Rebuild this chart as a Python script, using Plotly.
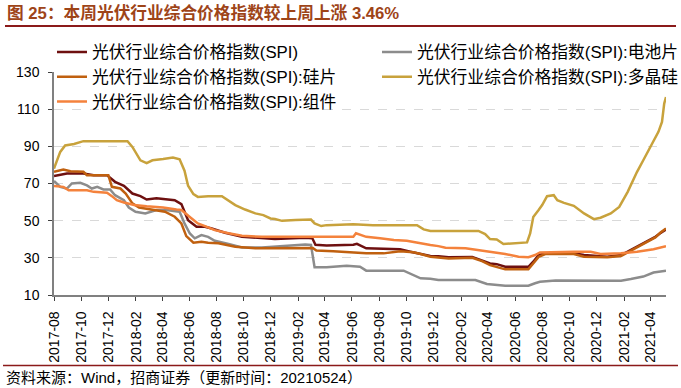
import plotly.graph_objects as go

# ---------------- data ----------------
spi_dates = ["2017-08-01","2017-08-30","2017-10-06","2017-10-29","2017-11-28","2017-12-05","2017-12-16",
             "2018-01-05","2018-01-24","2018-02-11","2018-02-25","2018-03-19","2018-04-18","2018-04-29",
             "2018-05-14","2018-05-29","2018-06-17","2018-07-06","2018-07-21","2018-08-20","2018-09-27",
             "2018-11-11","2018-12-10","2019-02-16","2019-03-04","2019-03-11","2019-04-05","2019-06-04",
             "2019-06-12","2019-07-03","2019-08-03","2019-09-17","2019-10-10","2019-11-02","2019-11-24",
             "2019-12-12","2020-01-04","2020-02-26","2020-03-19","2020-04-06","2020-04-21","2020-05-10",
             "2020-07-01","2020-07-12","2020-07-24","2020-08-08","2020-10-11","2020-11-03","2020-12-25",
             "2021-01-25","2021-02-09","2021-03-02","2021-03-24","2021-04-12","2021-04-23","2021-05-06"]
spi_vals = [74,75.4,75.4,74.5,74.5,73.2,70.9,
            68.7,64.6,63.2,61.4,62,61.4,61,
            58.9,50.3,46.7,46.7,45.8,43.5,41.3,
            40.5,40.2,40.8,40.5,37,36.6,37,
            37.5,35.1,34.8,34.6,33.3,32.1,31,
            30.8,30.3,30.5,28.8,27,26.6,25.2,
            25.2,27.9,31.5,32.4,32.4,31.5,30.6,
            31.5,33.3,36,38.6,41.3,43.2,45.3]

cell_dates = ["2017-08-01","2017-08-15","2017-08-30","2017-09-10","2017-09-29","2017-10-14","2017-10-25",
              "2017-11-06","2017-11-20","2017-12-05","2017-12-16","2018-01-05","2018-01-16","2018-01-31",
              "2018-02-22","2018-03-19","2018-04-10","2018-05-10","2018-05-21","2018-06-02","2018-06-13",
              "2018-06-28","2018-07-13","2018-07-28","2018-08-28","2018-09-27","2018-11-11","2019-01-02",
              "2019-02-16","2019-03-01","2019-03-09","2019-04-05","2019-05-04","2019-05-20","2019-06-19",
              "2019-07-03","2019-09-25","2019-10-17","2019-11-02","2019-11-24","2019-12-12","2020-03-04",
              "2020-03-30","2020-05-10","2020-07-01","2020-07-16","2020-07-27","2020-08-31","2020-11-03",
              "2021-01-25","2021-02-16","2021-03-16","2021-04-08","2021-05-06"]
cell_vals = [71.4,68.2,67.3,70,70.4,69,67.3,
             68.2,66.8,66.8,63.7,61,57.1,54.8,
             53.9,55.7,55.7,54.8,48.5,43.1,40.5,
             42.2,41.3,39.2,37.4,35.6,35.6,36.3,
             37.2,36.9,24.9,24.9,25.2,25.7,25.2,
             23.1,23.1,20.7,19,18.8,18.1,18.1,
             15.9,15,15,16.3,17.1,17.8,17.8,
             17.7,18.6,19.9,22.1,23.1]

wafer_dates = ["2017-08-01","2017-08-22","2017-09-07","2017-10-06","2017-10-14","2017-12-01","2017-12-09",
               "2017-12-28","2018-01-09","2018-01-24","2018-02-08","2018-03-04","2018-04-07","2018-04-29",
               "2018-05-14","2018-05-25","2018-06-10","2018-06-28","2018-07-13","2018-08-05","2018-09-12",
               "2018-10-27","2018-12-10","2019-01-10","2019-03-05","2019-03-13","2019-04-20","2019-07-03",
               "2019-08-11","2019-09-17","2019-10-17","2019-11-02","2019-11-24","2020-01-04","2020-02-26",
               "2020-03-19","2020-04-06","2020-05-10","2020-07-01","2020-07-24","2020-08-08","2020-10-11",
               "2020-11-03","2020-12-25","2021-01-25","2021-02-09","2021-03-02","2021-03-24","2021-04-12",
               "2021-04-23","2021-05-06"]
wafer_vals = [76.3,77.5,76.6,76.3,74.5,74.5,68.2,
              67.3,64.6,59.3,57.1,56,54.8,52.1,
              48.5,41.7,38.1,38.6,38.1,37.8,36,
              35.1,35.1,35.4,35.3,33.9,33.6,32.4,
              32.4,33.6,33,32.1,30.6,29.7,30,
              28.2,26.1,23.8,23.8,30.5,32,32,
              30.6,30.3,31,32.9,35.5,38.3,41,
              43.5,45.8]

poly_dates = ["2017-08-01","2017-08-15","2017-08-26","2017-09-15","2017-10-06","2018-01-13","2018-01-24",
              "2018-02-11","2018-02-25","2018-03-10","2018-04-03","2018-04-25","2018-05-10","2018-05-21",
              "2018-05-29","2018-06-10","2018-06-20","2018-07-13","2018-08-13","2018-08-28","2018-09-12",
              "2018-10-04","2018-10-27","2018-11-14","2018-11-30","2018-12-10","2018-12-26","2019-01-25",
              "2019-03-01","2019-03-09","2019-03-24","2019-04-05","2019-06-04","2019-07-18","2019-10-25",
              "2019-11-09","2019-11-24","2020-03-11","2020-03-26","2020-04-06","2020-04-21","2020-05-06",
              "2020-06-02","2020-06-28","2020-07-05","2020-07-12","2020-07-24","2020-08-01","2020-08-12",
              "2020-08-27","2020-09-04","2020-09-19","2020-10-11","2020-11-03","2020-11-25","2020-12-10",
              "2021-01-02","2021-01-21","2021-02-09","2021-03-02","2021-03-16","2021-04-01","2021-04-19",
              "2021-04-27","2021-05-02","2021-05-06"]
poly_vals = [78,87,90.5,91.3,92.8,92.8,89.7,
             82.5,81,82.5,83.2,84,83,76.9,
             68.8,64.3,62.8,63.2,63.2,61,58.4,
             56,53.9,53,51.2,50.9,49.9,50.3,
             50.6,48.5,47.1,47.6,48.1,47.6,47.6,
             45.3,44.4,44.5,42.8,40.1,39.9,37.4,
             37.7,38.3,43.1,52,55.7,58.4,63.2,
             63.7,61,59.6,58,53.9,50.8,51.6,
             53.9,57.4,65.5,76.3,82.5,90.1,97.8,
             103.1,113,116.5]

module_dates = ["2017-08-01","2017-08-22","2017-09-03","2017-10-14","2017-10-29","2017-11-28","2017-12-09",
                "2017-12-20","2018-01-05","2018-01-28","2018-02-25","2018-04-03","2018-05-03","2018-05-14",
                "2018-06-06","2018-06-20","2018-07-06","2018-07-28","2018-08-28","2018-09-27","2018-11-11",
                "2019-01-02","2019-02-16","2019-06-04","2019-06-10","2019-07-03","2019-08-03","2019-09-03",
                "2019-10-02","2019-10-25","2019-11-24","2019-12-12","2019-12-28","2020-02-11","2020-02-26",
                "2020-04-10","2020-05-10","2020-06-09","2020-07-01","2020-07-16","2020-07-27","2020-10-11",
                "2020-11-18","2020-12-10","2021-01-25","2021-03-02","2021-04-08","2021-05-06"]
module_vals = [68.6,68.2,66.4,66.4,65.5,65,63.2,
               61,59.8,58.4,57.7,57.1,56,55.7,
               51.2,48.5,47.1,44.9,43.2,41.9,41.3,
               41.3,41.7,41.3,43.2,41.3,40.5,39.6,
               39.2,38.1,36.9,36.3,35.4,35.1,34.6,
               33.3,32.1,30.6,30.3,31.5,32.9,33.3,
               33.3,32.1,32.5,33.3,34.6,36.3]

names = ["光伏行业综合价格指数(SPI)", "光伏行业综合价格指数(SPI):电池片",
         "光伏行业综合价格指数(SPI):硅片", "光伏行业综合价格指数(SPI):多晶硅",
         "光伏行业综合价格指数(SPI):组件"]
colors = ["#6E1010", "#8C8C8C", "#C0600F", "#C8A23C", "#F4823C"]
series = [(spi_dates, spi_vals), (cell_dates, cell_vals), (wafer_dates, wafer_vals),
          (poly_dates, poly_vals), (module_dates, module_vals)]
y_ticks = [10, 30, 50, 70, 90, 110, 130]

title_text = "图 25：本周光伏行业综合价格指数较上周上涨 3.46%"
source_text = "资料来源：Wind，招商证券（更新时间：20210524）"

FONT = "Liberation Sans, Arial, Noto Sans CJK SC, sans-serif"

fig = go.Figure()
for (d, v), n, c in zip(series, names, colors):
    fig.add_trace(go.Scatter(x=d, y=v, name=n, mode="lines",
                             line=dict(color=c, width=2.5)))

W, H = 681, 388
L, R, T, B = 54, 15, 72, 93
pw, ph = W - L - R, H - T - B
def px(x): return (x - L) / pw
def py(y): return (H - B - y) / ph

fig.update_layout(
    width=W, height=H,
    margin=dict(l=L, r=R, t=T, b=B, autoexpand=False),
    paper_bgcolor="white", plot_bgcolor="white",
    font=dict(family=FONT, color="black", size=14),
    showlegend=True,
    legend=dict(orientation="h", x=px(52), y=py(34.5), xanchor="left", yanchor="top",
                entrywidth=280, entrywidthmode="pixels", bgcolor="rgba(0,0,0,0)",
                font=dict(size=16.8, family=FONT), itemwidth=30, traceorder="normal"),
    xaxis=dict(type="date", range=["2017-08-01", "2021-05-06"], tick0="2017-08-01", dtick="M2",
               tickformat="%Y-%m", tickangle=-90, showgrid=False, showline=True,
               linecolor="#808080", linewidth=1.5, ticks="outside", ticklen=4, tickcolor="#404040",
               tickfont=dict(size=14), ticklabelstandoff=5, zeroline=False),
    yaxis=dict(range=[10, 130], tickvals=y_ticks, showgrid=True, gridcolor="#D9D9D9",
               griddash="dash", gridwidth=1, showline=True, linecolor="#808080", linewidth=1.5,
               ticks="outside", ticklen=4, tickcolor="#404040", tickfont=dict(size=14),
               ticklabelstandoff=6, zeroline=False),
)

fig.add_annotation(text="<b>" + title_text + "</b>", xref="paper", yref="paper",
                   x=px(5), y=py(12.5), xanchor="left", yanchor="middle", showarrow=False,
                   font=dict(size=16.7, color="#9E4418", family="Liberation Sans, Noto Sans CJK SC"))
fig.add_shape(type="line", xref="paper", yref="paper", x0=px(5), x1=px(676), y0=py(26), y1=py(26),
              line=dict(color="#8B1A1A", width=2))
fig.add_shape(type="line", xref="paper", yref="paper", x0=px(3), x1=px(678), y0=py(365.5), y1=py(365.5),
              line=dict(color="#8B1A1A", width=1.5))
fig.add_annotation(text=source_text, xref="paper", yref="paper",
                   x=px(4), y=py(377), xanchor="left", yanchor="middle", showarrow=False,
                   font=dict(size=15, color="black", family=FONT))

fig.write_html("out.html", config={"displayModeBar": False},
               post_script="document.body.style.margin='0';document.body.style.padding='0';")
